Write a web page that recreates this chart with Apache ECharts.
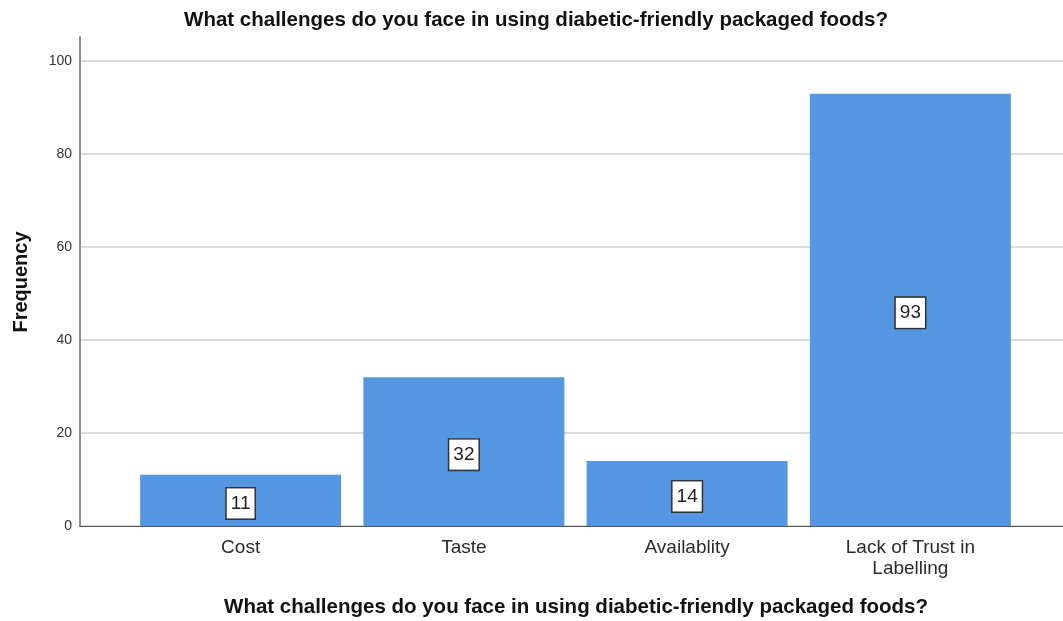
<!DOCTYPE html>
<html>
<head>
<meta charset="utf-8">
<script src="https://cdn.jsdelivr.net/npm/echarts@6/dist/echarts.min.js"></script>
<style>
  html, body { margin: 0; padding: 0; background: #ffffff; }
  #chart { width: 1063px; height: 621px; }
</style>
</head>
<body>
<div id="chart"></div>
<script>
// Survey responses: challenges with diabetic-friendly packaged foods
const categories = ['Cost', 'Taste', 'Availablity', 'Lack of Trust in\nLabelling'];
const frequencies = [11, 32, 14, 93];

// Frequency axis scale
const yMin = 0;
const yMax = 105.2;
const yStep = 20;

const chartTitle = 'What challenges do you face in using diabetic-friendly packaged foods?';
const xTitle = 'What challenges do you face in using diabetic-friendly packaged foods?';
const yTitle = 'Frequency';

const FONT = '"Liberation Sans", Arial, sans-serif';

const chart = echarts.init(document.getElementById('chart'), null, { renderer: 'canvas' });

chart.setOption({
  animation: false,
  backgroundColor: '#ffffff',
  textStyle: { fontFamily: FONT },
  grid: [
    // frame grid: axis lines and horizontal gridlines
    { left: 80, right: 0, top: 37, bottom: 95 },
    // bar grid: category bands inset from the frame
    { left: 129, width: 893, top: 37, bottom: 95 }
  ],
  xAxis: [
    {
      gridIndex: 0, type: 'value', min: 0, max: 1,
      axisLine: { show: true, lineStyle: { color: '#555555', width: 1 } },
      axisTick: { show: false }, axisLabel: { show: false }, splitLine: { show: false }
    },
    {
      gridIndex: 1, type: 'category', data: categories,
      axisLine: { show: false }, axisTick: { show: false },
      axisLabel: {
        fontFamily: FONT, fontSize: 19, color: '#2b2b2b', lineHeight: 21, margin: 11,
        interval: 0
      }
    }
  ],
  yAxis: [
    {
      gridIndex: 0, type: 'value', min: yMin, max: yMax, interval: yStep,
      axisLine: { show: true, lineStyle: { color: '#8f8f8f', width: 2 } },
      axisTick: { show: false },
      axisLabel: { fontFamily: FONT, fontSize: 14, color: '#333333', margin: 8, showMaxLabel: false },
      splitLine: { show: true, showMaxLine: false, lineStyle: { color: '#cfcfcf', width: 1.5 } }
    },
    {
      gridIndex: 1, type: 'value', min: yMin, max: yMax, interval: yStep, show: false
    }
  ],
  graphic: [
    {
      type: 'text', x: 536, y: 20,
      style: {
        text: chartTitle, fontFamily: FONT, fontWeight: 'bold', fontSize: 20.5,
        fill: '#111111', align: 'center', verticalAlign: 'middle'
      }
    },
    {
      type: 'text', x: 576, y: 607,
      style: {
        text: xTitle, fontFamily: FONT, fontWeight: 'bold', fontSize: 20.5,
        fill: '#111111', align: 'center', verticalAlign: 'middle'
      }
    },
    {
      type: 'text', x: 21, y: 282, rotation: Math.PI / 2,
      style: {
        text: yTitle, fontFamily: FONT, fontWeight: 'bold', fontSize: 20,
        fill: '#111111', align: 'center', verticalAlign: 'middle'
      }
    }
  ],
  series: [
    {
      type: 'bar', xAxisIndex: 1, yAxisIndex: 1,
      data: frequencies,
      barWidth: 201,
      itemStyle: { color: '#5596e3' },
      label: {
        show: true, position: 'inside', formatter: '{c}', offset: [0, 3],
        fontFamily: FONT, fontSize: 19, color: '#222222',
        backgroundColor: '#ffffff', borderColor: '#333333', borderWidth: 1.5,
        padding: [6, 4, 5, 4]
      }
    }
  ]
});
</script>
</body>
</html>
